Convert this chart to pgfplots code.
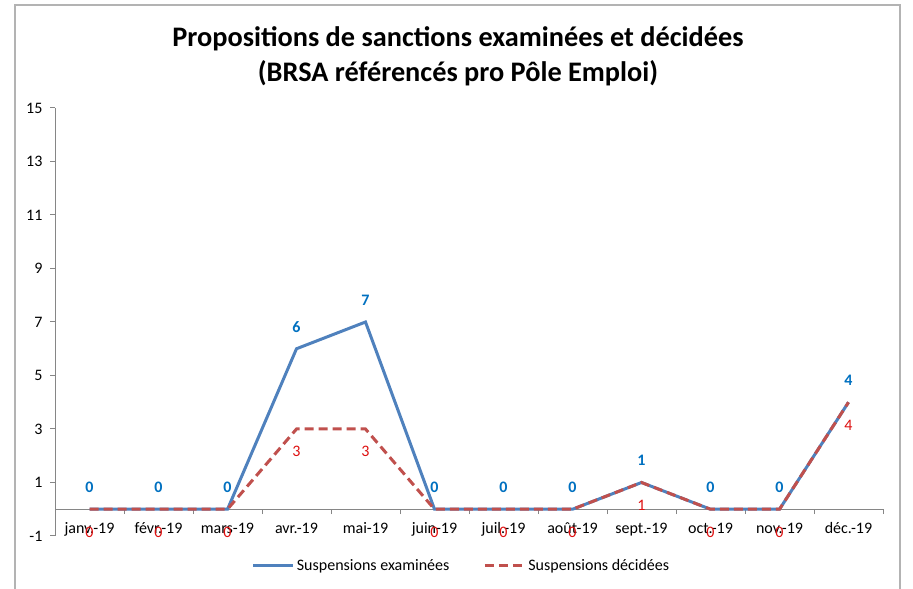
\documentclass[border=0pt]{standalone}
\usepackage{fontspec}
\setmainfont{Carlito}
\usepackage{pgfplots}
\pgfplotsset{compat=1.18}
\definecolor{serblue}{HTML}{4F81BD}
\definecolor{serred}{HTML}{C0504D}
\definecolor{lblblue}{HTML}{0070C0}
\definecolor{lblred}{HTML}{DD1010}
\definecolor{axgray}{HTML}{868686}
\definecolor{framegray}{HTML}{B3B3B3}

\begin{document}
\begin{tikzpicture}[x=1pt,y=1pt]
\path[use as bounding box] (0,0) rectangle (913,589);
\draw[framegray, line width=1.5pt] (15,0) -- (15,584) -- (900,584) -- (900,0);
\node[align=center, font=\fontsize{28.3}{35}\selectfont\bfseries] at (458,533)
  {Propositions de sanctions examinées et décidées\\(BRSA référencés pro Pôle Emploi)};
\begin{axis}[
  at={(55pt,53pt)}, anchor=south west,
  scale only axis, width=828pt, height=428pt,
  xmin=-0.5, xmax=11.5, ymin=-1, ymax=15,
  clip=false,
  axis x line*=middle, axis y line*=left,
  axis line style={axgray, line width=1pt},
  xtick={0,...,11},
  xticklabels={janv.-19,févr.-19,mars-19,avr.-19,mai-19,juin-19,juil.-19,août-19,sept.-19,oct.-19,nov.-19,déc.-19},
  minor xtick={-0.5,0.5,...,11.5},
  ytick={-1,1,...,15},
  tick align=outside,
  major tick length=5pt, minor tick length=5pt,
  tick style={axgray, line width=1pt},
  xtick style={draw=none},
  minor x tick style={draw=axgray},
  /pgf/number format/assume math mode=true,
  tick label style={font=\fontsize{16}{19}\selectfont},
  xticklabel style={yshift=-5pt},
  yticklabel style={xshift=-4pt},
  legend style={at={(0.491,-0.07)}, anchor=center, draw=none, legend columns=2,
    font=\fontsize{16}{19}\selectfont,
    /tikz/every even column/.append style={column sep=32pt}},
  legend image code/.code={\draw[#1] (0pt,0pt) -- (40pt,0pt);},
]
\addplot[serblue, line width=3pt,
  nodes near coords,
  every node near coord/.append style={font=\fontsize{16}{19}\selectfont\bfseries, text=lblblue, anchor=south, inner sep=0pt, yshift=15pt}]
  coordinates {(0,0)(1,0)(2,0)(3,6)(4,7)(5,0)(6,0)(7,0)(8,1)(9,0)(10,0)(11,4)};
\addlegendentry{Suspensions examinées}
\addplot[serred, line width=3pt, dash pattern=on 9pt off 5pt,
  nodes near coords,
  every node near coord/.append style={font=\fontsize{16}{19}\selectfont, text=lblred, anchor=north, inner sep=0pt, yshift=-16pt}]
  coordinates {(0,0)(1,0)(2,0)(3,3)(4,3)(5,0)(6,0)(7,0)(8,1)(9,0)(10,0)(11,4)};
\addlegendentry{Suspensions décidées}
\end{axis}
\end{tikzpicture}
\end{document}
